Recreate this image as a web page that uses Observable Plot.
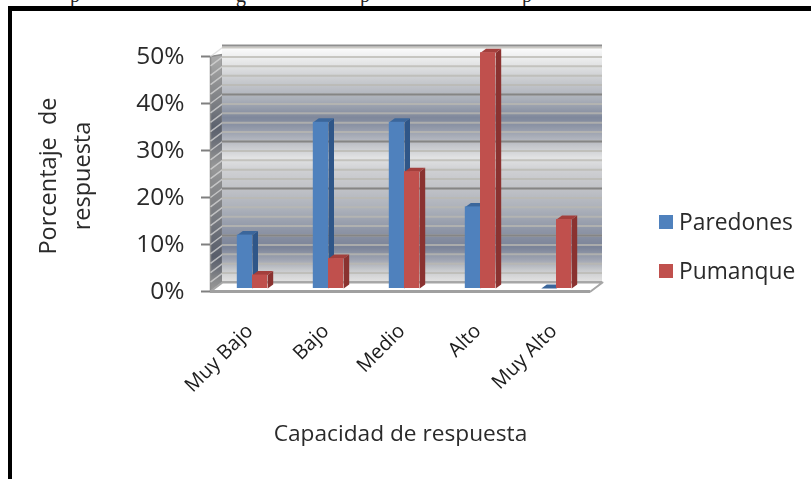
<!DOCTYPE html>
<html>
<head>
<meta charset="utf-8">
<script src="https://cdn.jsdelivr.net/npm/d3@7"></script>
<script src="https://cdn.jsdelivr.net/npm/@observablehq/plot@0.6"></script>
<style>
html,body{margin:0;padding:0;background:#fff;overflow:hidden}
#page{position:relative;width:811px;height:479px;overflow:hidden;font-family:"Open Sans",sans-serif;color:#2a2a2a}
#page svg{position:absolute;left:0;top:0;filter:blur(.45px)}
#frame{position:absolute;left:8px;top:6px;right:-10px;bottom:-10px;border-left:4px solid #000;border-top:5px solid #000}
.clip{position:absolute;top:-14px;font:20px "Liberation Serif",serif;color:#222;line-height:18px}
.leg{position:absolute;left:659px;font-size:22.8px;line-height:24px;height:24px;display:flex;align-items:center;filter:blur(.3px)}
.leg i{display:block;width:14px;height:14px;margin-right:6px}
</style>
</head>
<body>
<div id="page"></div>
<script>
const categories = ["Muy Bajo", "Bajo", "Medio", "Alto", "Muy Alto"];
const paredones = [12, 36, 36, 18, 0];
const pumanque = [3.5, 7, 25.5, 50.8, 15.3];
const yTicks = [0, 10, 20, 30, 40, 50];
const minorTicks = d3.range(0, 51, 2);
const wallOffsets = [50, 46.2, 43, 38.7, 35, 33.4, 31.3, 29, 26.4, 23.8, 19.6, 15.3, 11, 7.4, 4.7, 2.5, 0.4];
const wallColors = ["#fdfdfd","#e2e3e4","#c9cbcf","#a9aeb8","#7f889c","#8a92a4","#a4a9b5","#c4c6cb","#e2e3e4","#cfd0d3","#bfc1c6","#aaafb9","#8e95a6","#7a8398","#a0a5b2","#c8cacd","#dfdfdf"];
const colors = {
  Paredones: {front: "#4f81bd", side: "#2f5688", top: "#3b669b"},
  Pumanque: {front: "#c0504d", side: "#8a3230", top: "#a33f3c"}
};

// depth of the 3D box, in scale units
const wallDX = 12 / 76, wallDY = 9 / 4.7;
const barDX = 5.5 / 76, barDY = 4 / 4.7;
const barBase = 0.64, barWidth = 0.2, wallTop = 50.4;

const poly = (pts, id) => pts.map(([x, y]) => ({x, y, id}));

function barFaces(values, start) {
  const rows = values.map((v, i) => {
    const x1 = i + start, x2 = x1 + barWidth, y2 = Math.max(v, barBase);
    return {x1, x2, y1: barBase, y2, i};
  });
  const side = rows.flatMap(r => poly([[r.x2, r.y1], [r.x2 + barDX, r.y1 + barDY], [r.x2 + barDX, r.y2 + barDY], [r.x2, r.y2]], r.i));
  const top = rows.flatMap(r => poly([[r.x1, r.y2], [r.x1 + barDX, r.y2 + barDY], [r.x2 + barDX, r.y2 + barDY], [r.x2, r.y2]], r.i));
  return {rows: rows.filter(r => r.y2 > r.y1), side, top};
}
const seriesMarks = (values, start, c) => {
  const f = barFaces(values, start);
  return [
    Plot.line(f.side, {x: "x", y: "y", z: "id", fill: c.side, stroke: "none", dx: 4, curve: "linear-closed"}),
    Plot.line(f.top, {x: "x", y: "y", z: "id", fill: c.top, stroke: "none", dx: 4, curve: "linear-closed"}),
    Plot.rect(f.rows, {x1: "x1", x2: "x2", y1: "y1", y2: "y2", fill: c.front, dx: 4})
  ];
};

const leftWall = poly([[0, 0], [wallDX, wallDY], [wallDX, wallTop + wallDY - 1.9], [0, wallTop - 0.4]], "w");
const floor = poly([[0, 0], [wallDX, wallDY], [5 + wallDX, wallDY], [5, 0]], "f");
const gradientDefs = () => {
  const defs = d3.create("svg:defs");
  const g = defs.append("linearGradient").attr("id", "wallGrad").attr("x1", 0).attr("x2", 0).attr("y1", 0).attr("y2", 1);
  wallOffsets.forEach((v, i) => g.append("stop").attr("offset", 1 - v / wallTop).attr("stop-color", wallColors[i]));
  return defs.node();
};

const chart = Plot.plot({
  width: 811, height: 479,
  marginLeft: 210, marginRight: 221, marginTop: 56, marginBottom: 188,
  style: {fontFamily: "'Open Sans', sans-serif", background: "transparent", overflow: "visible"},
  x: {domain: [0, 5], axis: null},
  y: {domain: [0, 50], axis: null},
  marks: [
    gradientDefs,
    // left wall
    Plot.line(leftWall, {x: "x", y: "y", z: "id", fill: "url(#wallGrad)", stroke: "none", curve: "linear-closed"}),
    Plot.line(leftWall, {x: "x", y: "y", z: "id", fill: "#222", fillOpacity: 0.38, stroke: "#8d8d8d", strokeWidth: 1.5, curve: "linear-closed"}),
    Plot.link(minorTicks, {x1: 0, x2: wallDX, y1: d => d, y2: d => d + wallDY, stroke: "#d8d8d8", strokeOpacity: 0.75, strokeWidth: 1.5}),
    // back wall
    Plot.rect([0], {x1: 0, x2: 5, y1: 0, y2: wallTop, dx: 12, dy: -9, fill: "url(#wallGrad)"}),
    Plot.ruleY(minorTicks, {x1: 0, x2: 5, dx: 12, dy: -9, stroke: "#b9b8b2", strokeWidth: 2, strokeOpacity: 0.75}),
    Plot.ruleY(yTicks.slice(0, -1), {x1: 0, x2: 5, dx: 12, dy: -9, stroke: "#858585", strokeWidth: 2}),
    Plot.ruleY([wallTop], {x1: 0, x2: 5, dx: 12, dy: -9, stroke: "#8f8f8f", strokeWidth: 2}),
    // floor
    Plot.line(floor, {x: "x", y: "y", z: "id", fill: "#fff", stroke: "#a6a6a6", strokeWidth: 2, curve: "linear-closed"}),
    Plot.ruleY([0], {x1: 0, x2: 5, stroke: "#a0a0a0", strokeWidth: 3}),
    // bars
    ...seriesMarks(paredones, 0.3, colors.Paredones),
    ...seriesMarks(pumanque, 0.5, colors.Pumanque),
    // axes and labels
    Plot.axisY({ticks: yTicks, tickFormat: d => d + "%", tickSize: 9, tickPadding: 17, fontSize: 24.5, stroke: "#7f7f7f", strokeWidth: 2, fill: "#2a2a2a"}),
    Plot.text(categories, {x: (d, i) => i + 0.5, y: 0, text: d => d, rotate: -45, textAnchor: "end", dy: 36, dx: 1, fontSize: 20, fill: "#1c1c1c"}),
    Plot.text(["Porcentaje  de\nrespuesta"], {frameAnchor: "left", textAnchor: "middle", dx: -148, dy: 2, rotate: -90, fontSize: 23.5, lineHeight: 1.45, fill: "#2a2a2a"}),
    Plot.text(["Capacidad de respuesta"], {frameAnchor: "bottom", dy: 149, fontSize: 22.7, fill: "#2a2a2a"})
  ]
});
const page = document.getElementById("page");
page.appendChild(chart);

for (const [ch, x] of [["p", 70], ["g", 236], ["p", 360], ["p", 522]]) {
  const s = document.createElement("span");
  s.className = "clip"; s.textContent = ch; s.style.left = x + "px";
  page.appendChild(s);
}
const frame = document.createElement("div"); frame.id = "frame"; page.appendChild(frame);
[["Paredones", 210], ["Pumanque", 259]].forEach(([name, top]) => {
  const d = document.createElement("div");
  d.className = "leg"; d.style.top = top + "px";
  d.innerHTML = `<i style="background:${colors[name].front}"></i><span></span>`;
  d.querySelector("span").textContent = name;
  page.appendChild(d);
});
</script>
</body>
</html>
